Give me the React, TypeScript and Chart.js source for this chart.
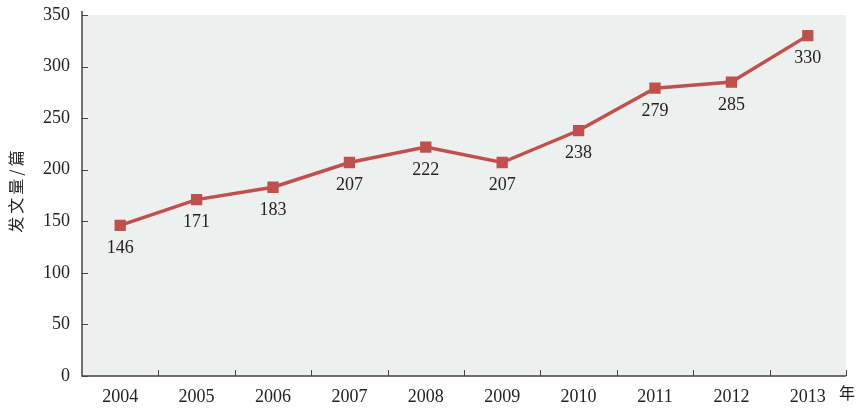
import React, { useEffect, useRef } from "react";
import { Chart, registerables } from "chart.js";

Chart.register(...registerables);

const years = ["2004", "2005", "2006", "2007", "2008", "2009", "2010", "2011", "2012", "2013"];
const counts = [146, 171, 183, 207, 222, 207, 238, 279, 285, 330];
const yTitle = "发文量/篇";
const xUnit = "年";

const SERIF = "'Liberation Serif', 'DejaVu Serif', serif";
const CJK = "'Noto Sans CJK SC', sans-serif";

const decor = {
  id: "decor",
  beforeDraw(chart: any) {
    const { ctx, chartArea: a } = chart;
    ctx.save();
    ctx.fillStyle = "#eeefef";
    ctx.fillRect(a.left, a.top, a.right - a.left, a.bottom - a.top);
    ctx.restore();
  },
  afterDraw(chart: any) {
    const { ctx, chartArea: a, scales } = chart;
    const y = scales.y;
    ctx.save();
    ctx.strokeStyle = "#444";
    ctx.lineWidth = 1.5;
    ctx.beginPath();
    ctx.moveTo(a.left, a.top - 4);
    ctx.lineTo(a.left, a.bottom);
    ctx.lineTo(a.right, a.bottom);
    ctx.stroke();
    ctx.lineWidth = 1;
    ctx.beginPath();
    y.ticks.forEach((t: any) => {
      const py = Math.round(y.getPixelForValue(t.value)) + 0.5;
      ctx.moveTo(a.left, py);
      ctx.lineTo(a.left + 6, py);
    });
    const n = years.length;
    const w = (a.right - a.left) / n;
    for (let i = 1; i <= n; i++) {
      const px = Math.round(a.left + i * w) + 0.5;
      ctx.moveTo(px, a.bottom);
      ctx.lineTo(px, a.bottom - 6);
    }
    ctx.stroke();

    // data labels
    const meta = chart.getDatasetMeta(0);
    ctx.fillStyle = "#222";
    ctx.font = "18px " + SERIF;
    ctx.textAlign = "center";
    ctx.textBaseline = "middle";
    meta.data.forEach((pt: any, i: number) => {
      ctx.fillText(String(counts[i]), pt.x, pt.y + 23);
    });

    // y title
    ctx.save();
    ctx.translate(16, 190);
    ctx.rotate(-Math.PI / 2);
    ctx.font = "16px " + CJK;
    ctx.textAlign = "center";
    ctx.textBaseline = "middle";
    (ctx as any).letterSpacing = "3px";
    ctx.fillText(yTitle, 0, 0);
    ctx.restore();

    // x unit
    ctx.font = "16px " + CJK;
    ctx.textAlign = "center";
    ctx.textBaseline = "middle";
    ctx.fillText(xUnit, 847, 393);
    ctx.restore();
  },
};

export default function App() {
  const ref = useRef<HTMLCanvasElement>(null);
  useEffect(() => {
    const chart = new Chart(ref.current!, {
      type: "line",
      data: {
        labels: years,
        datasets: [
          {
            data: counts,
            borderColor: "#c0504d",
            backgroundColor: "#c0504d",
            borderWidth: 3.5,
            pointStyle: "rect",
            pointRadius: 5.5,
            pointHoverRadius: 5.5,
            tension: 0,
          },
        ],
      },
      options: {
        responsive: false,
        animation: false,
        plugins: { legend: { display: false }, tooltip: { enabled: false } },
        layout: { padding: { top: 15, right: 12, left: 0, bottom: 0 } },
        scales: {
          x: {
            offset: true,
            grid: { display: false, drawTicks: false },
            border: { display: false },
            ticks: { color: "#222", font: { family: SERIF, size: 18 }, padding: 10, maxRotation: 0 },
            afterFit: (s: any) => { s.height = 34; s.paddingLeft = 0; s.paddingRight = 0; },
          },
          y: {
            min: 0,
            max: 350,
            ticks: { stepSize: 50, color: "#222", font: { family: SERIF, size: 18 }, padding: 12 },
            grid: { display: false, drawTicks: false },
            border: { display: false },
            afterFit: (s: any) => { s.width = 82; s.paddingTop = 0; s.paddingBottom = 0; },
          },
        },
      },
      plugins: [decor],
    });
    return () => chart.destroy();
  }, []);
  return (
    <div style={{ position: "fixed", left: 0, top: 0, width: 858, height: 410, background: "#fff" }}>
      <canvas ref={ref} width={858} height={410} />
    </div>
  );
}
